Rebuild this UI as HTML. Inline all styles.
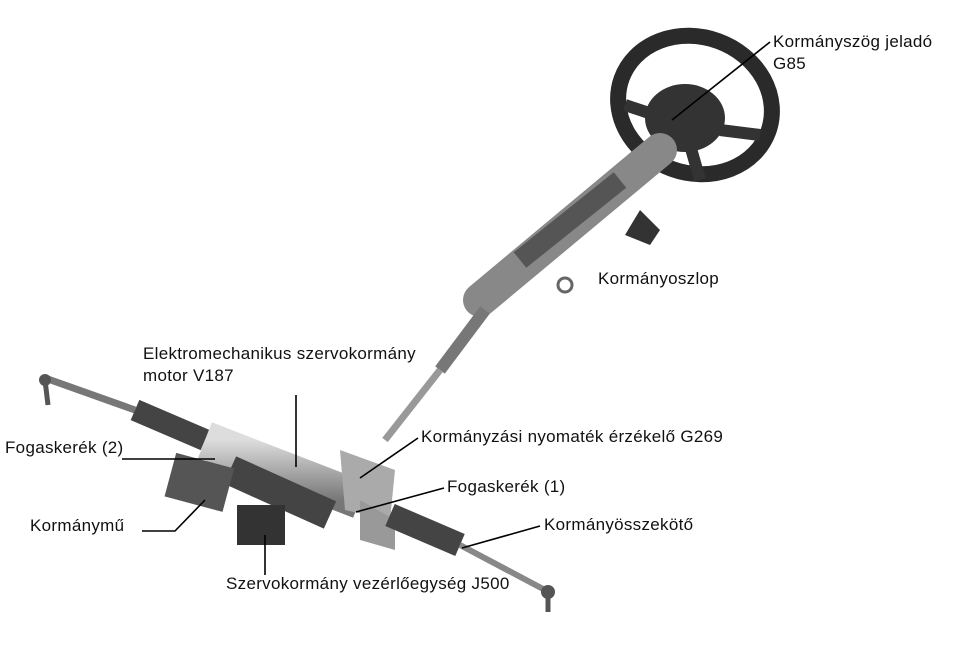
<!DOCTYPE html>
<html><head><meta charset="utf-8"><style>
body{margin:0;background:#fff;}
.w{position:relative;width:956px;height:645px;overflow:hidden;font-family:"Liberation Sans",sans-serif;}
svg{position:absolute;left:0;top:0;}
.t{position:absolute;font-size:17px;letter-spacing:0.3px;color:#111;white-space:nowrap;line-height:22px;}
</style></head><body><div class="w">
<svg width="956" height="645" viewBox="0 0 956 645">
<defs>
<linearGradient id="g" x1="0" y1="0" x2="0" y2="1"><stop offset="0" stop-color="#ddd"/><stop offset="1" stop-color="#777"/></linearGradient>
</defs>
<ellipse cx="695" cy="105" rx="78" ry="68" fill="none" stroke="#2a2a2a" stroke-width="16" transform="rotate(20 695 105)"/>
<ellipse cx="685" cy="118" rx="40" ry="34" fill="#333"/>
<path d="M655 115 L625 105 M720 130 L760 135 M690 145 L700 180" stroke="#333" stroke-width="12"/>
<path d="M660 150 L480 300" stroke="#888" stroke-width="34" stroke-linecap="round"/>
<path d="M620 180 L520 260" stroke="#555" stroke-width="20"/>
<path d="M640 210 L660 230 L650 245 L625 235Z" fill="#333"/>
<circle cx="565" cy="285" r="7" fill="none" stroke="#666" stroke-width="3"/>
<path d="M485 310 L440 370" stroke="#777" stroke-width="12"/>
<path d="M440 370 L385 440" stroke="#999" stroke-width="7"/>
<path d="M45 378 L135 410" stroke="#777" stroke-width="7"/>
<circle cx="45" cy="380" r="6" fill="#555"/>
<path d="M45 380 L48 405" stroke="#555" stroke-width="5"/>
<path d="M135 410 L205 440" stroke="#444" stroke-width="22"/>
<path d="M205 440 L360 500" stroke="url(#g)" stroke-width="38"/>
<path d="M230 470 L330 515" stroke="#444" stroke-width="30"/>
<rect x="170" y="460" width="60" height="45" fill="#555" transform="rotate(15 200 480)"/>
<rect x="237" y="505" width="48" height="40" fill="#333"/>
<path d="M340 450 L395 470 L390 520 L345 510Z" fill="#aaa"/>
<path d="M360 500 L395 520 L395 550 L360 540Z" fill="#999"/>
<path d="M390 515 L460 545" stroke="#444" stroke-width="24"/>
<path d="M460 545 L545 590" stroke="#888" stroke-width="6"/>
<circle cx="548" cy="592" r="7" fill="#555"/>
<path d="M548 592 L548 612" stroke="#555" stroke-width="5"/>
<g stroke="#000" stroke-width="1.6" fill="none">
<path d="M770 42 L672 120"/>
<path d="M122 459 L215 459"/>
<path d="M296 395 L296 467"/>
<path d="M418 438 L360 478"/>
<path d="M444 488 L356 512"/>
<path d="M142 531 L175 531 L205 500"/>
<path d="M540 526 L462 548"/>
<path d="M265 535 L265 575"/>
</g>
</svg>
<div class="t" style="left:773px;top:31px">Kormányszög jeladó<br>G85</div>
<div class="t" style="left:598px;top:268px">Kormányoszlop</div>
<div class="t" style="left:143px;top:343px">Elektromechanikus szervokormány<br>motor V187</div>
<div class="t" style="left:5px;top:437px">Fogaskerék (2)</div>
<div class="t" style="left:421px;top:426px">Kormányzási nyomaték érzékelő G269</div>
<div class="t" style="left:447px;top:476px">Fogaskerék (1)</div>
<div class="t" style="left:30px;top:515px">Kormánymű</div>
<div class="t" style="left:544px;top:514px">Kormányösszekötő</div>
<div class="t" style="left:226px;top:573px">Szervokormány vezérlőegység J500</div>
</div></body></html>
